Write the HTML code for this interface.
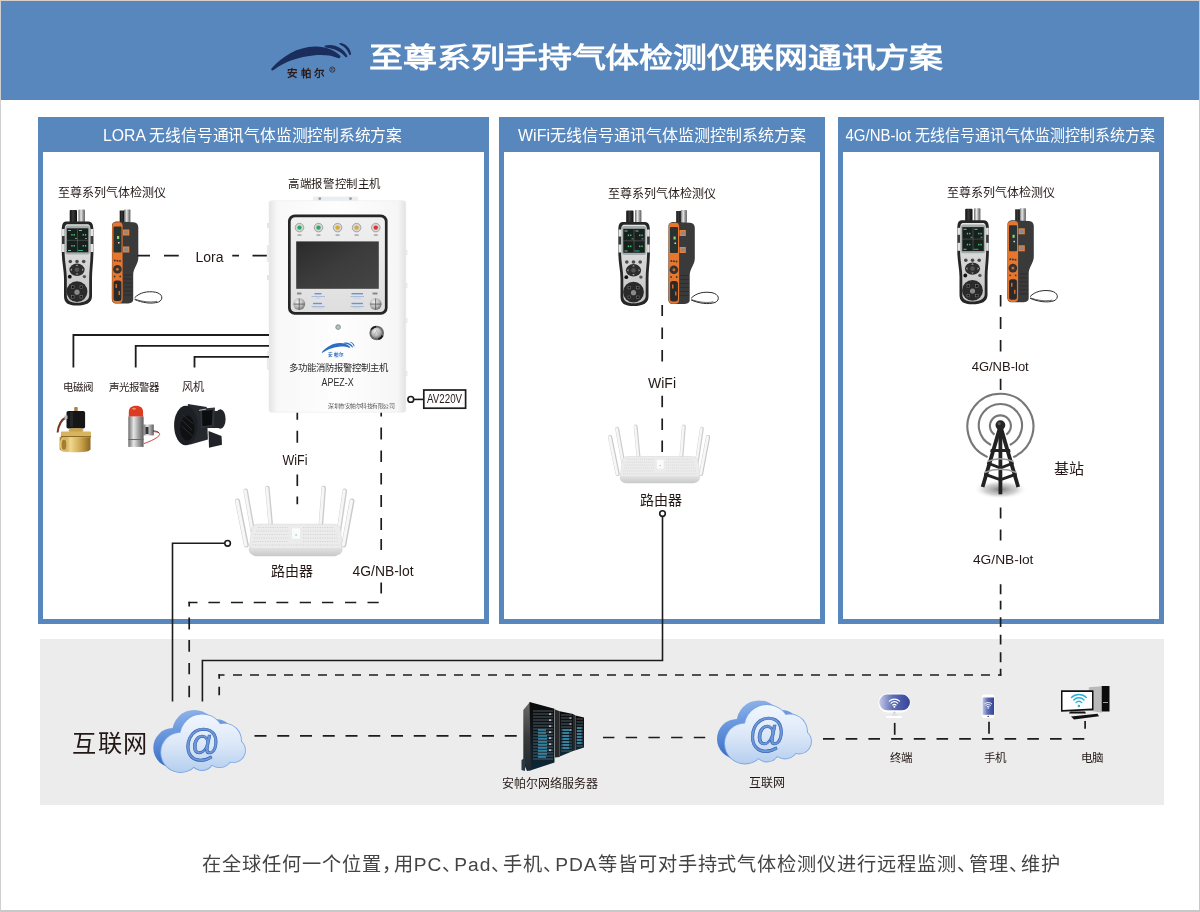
<!DOCTYPE html>
<html lang="zh-CN">
<head>
<meta charset="utf-8">
<title>至尊系列手持气体检测仪联网通讯方案</title>
<style>
html,body{margin:0;padding:0;background:#fff;}
body{width:1200px;height:912px;overflow:hidden;position:relative;font-family:"Liberation Sans",sans-serif;}
#frame{position:absolute;left:0;top:0;width:1200px;height:912px;box-sizing:border-box;border-left:1px solid #cfcfcf;border-right:1px solid #c8c8c8;border-bottom:2px solid #c8c8c8;border-top:1px solid #d8cfc8;}
#hdr{position:absolute;left:1px;top:1px;width:1198px;height:98.5px;background:#5787bd;}
.panel{position:absolute;box-sizing:border-box;border:5.5px solid #5787bd;border-top:35px solid #5787bd;background:#fff;}
#gray{position:absolute;left:40px;top:639px;width:1124px;height:166px;background:#ececec;}
svg{position:absolute;left:0;top:0;will-change:transform;}
</style>
</head>
<body>
<div id="frame"></div>
<div id="hdr"></div>
<div class="panel" style="left:37.5px;top:117px;width:451.5px;height:507px;"></div>
<div class="panel" style="left:499px;top:117px;width:326px;height:507px;"></div>
<div class="panel" style="left:838px;top:117px;width:326px;height:507px;"></div>
<div id="gray"></div>
<svg width="1200" height="912" viewBox="0 0 1200 912">
<defs>
 <linearGradient id="gTubeK" x1="0" x2="1" y1="0" y2="0"><stop offset="0" stop-color="#111"/><stop offset="0.45" stop-color="#3a3a3a"/><stop offset="1" stop-color="#0c0c0c"/></linearGradient>
 <linearGradient id="gTubeS" x1="0" x2="1" y1="0" y2="0"><stop offset="0" stop-color="#6a6a6a"/><stop offset="0.4" stop-color="#e8e8e8"/><stop offset="0.7" stop-color="#9a9a9a"/><stop offset="1" stop-color="#5a5a5a"/></linearGradient>
 <linearGradient id="gFace" x1="0" x2="0" y1="0" y2="1"><stop offset="0" stop-color="#e6e6e6"/><stop offset="1" stop-color="#c4c4c4"/></linearGradient>
 <linearGradient id="gBox" x1="0" x2="1" y1="0" y2="0"><stop offset="0" stop-color="#e4e4e4"/><stop offset="0.06" stop-color="#f8f8f8"/><stop offset="0.5" stop-color="#fefefe"/><stop offset="0.94" stop-color="#f6f6f6"/><stop offset="1" stop-color="#e2e2e2"/></linearGradient>
 <linearGradient id="gScreen" x1="0" x2="1" y1="0" y2="1"><stop offset="0" stop-color="#2a2a2a"/><stop offset="0.5" stop-color="#3c3c3c"/><stop offset="1" stop-color="#454545"/></linearGradient>
 <linearGradient id="gPanelIn" x1="0" x2="0" y1="0" y2="1"><stop offset="0" stop-color="#f0f0f0"/><stop offset="1" stop-color="#dedede"/></linearGradient>
 <radialGradient id="gKnob" cx="0.4" cy="0.35" r="0.7"><stop offset="0" stop-color="#f4f4f4"/><stop offset="0.6" stop-color="#b5b5b5"/><stop offset="1" stop-color="#6a6a6a"/></radialGradient>
 <radialGradient id="gShadow" cx="0.5" cy="0.5" r="0.5"><stop offset="0" stop-color="#6e6e6e" stop-opacity="0.9"/><stop offset="0.6" stop-color="#a8a8a8" stop-opacity="0.5"/><stop offset="1" stop-color="#fff" stop-opacity="0"/></radialGradient>
 <linearGradient id="gCloudF" gradientUnits="userSpaceOnUse" x1="0" y1="4" x2="0" y2="64"><stop offset="0" stop-color="#f2f7fd"/><stop offset="0.5" stop-color="#dce8f8"/><stop offset="1" stop-color="#b4cdee"/></linearGradient>
 <linearGradient id="gCloudB" gradientUnits="userSpaceOnUse" x1="0" y1="0" x2="12" y2="62"><stop offset="0" stop-color="#a9c7ef"/><stop offset="0.45" stop-color="#6f9be0"/><stop offset="1" stop-color="#3a6fc4"/></linearGradient>
 <linearGradient id="gBrass" x1="0" x2="1" y1="0" y2="0"><stop offset="0" stop-color="#9c7426"/><stop offset="0.35" stop-color="#f0d78c"/><stop offset="0.7" stop-color="#c9a34b"/><stop offset="1" stop-color="#8a6520"/></linearGradient>
 <linearGradient id="gSteel" x1="0" x2="1" y1="0" y2="0"><stop offset="0" stop-color="#6d6d6d"/><stop offset="0.35" stop-color="#e6e6e6"/><stop offset="0.65" stop-color="#a5a5a5"/><stop offset="1" stop-color="#5e5e5e"/></linearGradient>
 <linearGradient id="gTerm" x1="0" x2="1" y1="0" y2="0"><stop offset="0" stop-color="#c3c9e6"/><stop offset="0.45" stop-color="#5d6cb4"/><stop offset="1" stop-color="#34449a"/></linearGradient>
 <linearGradient id="gRack" x1="0" x2="0" y1="0" y2="1"><stop offset="0" stop-color="#0a0a0a"/><stop offset="0.55" stop-color="#0f1a22"/><stop offset="1" stop-color="#0c2838"/></linearGradient>
 <linearGradient id="gRouterLip" x1="0" x2="0" y1="0" y2="1"><stop offset="0" stop-color="#e6e6e6"/><stop offset="1" stop-color="#c8c8c8"/></linearGradient>

 <g id="devs">
  <!-- device 1 -->
  <rect x="69.7" y="210" width="7.3" height="13" rx="1" fill="url(#gTubeK)"/>
  <rect x="78.5" y="209.5" width="6.4" height="13.5" rx="1" fill="url(#gTubeS)"/>
  <path d="M66,221.5C62.5,221.5 61.8,225 61.8,231V252C61.8,262 64,270 64,278V296C64,303 68,305.5 77,305.5C86,305.5 92,303 92,296V278C92,270 93.4,262 93.4,252V231C93.4,225 92.5,221.5 88.5,221.5Z" fill="#262626"/>
  <path d="M67.8,224.3C65.3,224.3 64.6,226.5 64.6,231.5V252C64.6,262 66.8,270 66.8,278V295.5C66.8,300.5 70.5,302.8 77,302.8C83.5,302.8 89.2,300.5 89.2,295.5V278C89.2,270 90.6,262 90.6,252V231.5C90.6,226.5 89.8,224.3 87.3,224.3Z" fill="url(#gFace)"/>
  <rect x="62" y="229" width="2.6" height="23" fill="#e4e4e4"/><rect x="62" y="236" width="2.6" height="8" fill="#3a3a3a"/>
  <rect x="90.6" y="229" width="2.6" height="23" fill="#e4e4e4"/><rect x="90.6" y="236" width="2.6" height="8" fill="#3a3a3a"/>
  <rect x="65.3" y="225.6" width="24.5" height="28.8" rx="2.5" fill="#a3adab"/>
  <rect x="66.8" y="228.3" width="21.5" height="24" fill="#17201d"/>
  <path d="M77.5,229V252M67,240.3H88" stroke="#6c7570" stroke-width="0.5"/>
  <g fill="#3bd06a"><rect x="71.3" y="234" width="1.3" height="1.6"/><rect x="73.6" y="234" width="1.3" height="1.6"/><rect x="82.6" y="234" width="1.3" height="1.6"/><rect x="84.9" y="234" width="1.3" height="1.6"/><rect x="71.3" y="245" width="1.3" height="1.6"/><rect x="73.6" y="245" width="1.3" height="1.6"/><rect x="82.6" y="245" width="1.3" height="1.6"/><rect x="84.9" y="245" width="1.3" height="1.6"/></g>
  <g fill="#9aa"><rect x="68" y="230" width="3" height="1"/><rect x="79" y="230" width="3" height="1"/><rect x="75" y="238" width="2" height="0.8"/><rect x="85" y="238" width="2" height="0.8"/><rect x="68" y="250" width="3" height="1"/><rect x="78" y="250" width="5" height="1" fill="#3a8"/></g>
  <g fill="#4a4a4a"><circle cx="70.3" cy="261.5" r="1.8"/><circle cx="77" cy="261.5" r="1.8"/><circle cx="83.7" cy="261.5" r="1.8"/></g>
  <ellipse cx="77" cy="269.8" rx="7.6" ry="6.2" fill="#2e2e2e"/><circle cx="77" cy="269.8" r="2.3" fill="#555"/><path d="M77,264.3L78.3,266H75.7ZM77,275.3L78.3,273.6H75.7ZM70.3,269.8L72,268.5V271.1ZM83.7,269.8L82,268.5V271.1Z" fill="#999"/>
  <circle cx="69.8" cy="276.7" r="1.9" fill="#111"/><circle cx="84.4" cy="276.6" r="1.7" fill="#555"/>
  <circle cx="77" cy="291.6" r="10.4" fill="#2a2a2a"/>
  <g fill="#111" stroke="#888" stroke-width="0.5"><rect x="71.5" y="285.8" width="2.6" height="2.6"/><rect x="80" y="285.8" width="2.6" height="2.6"/><rect x="71.5" y="295.5" width="2.6" height="2.6"/><rect x="80" y="295.5" width="2.6" height="2.6"/></g>
  <circle cx="77" cy="292.2" r="2.6" fill="#8a8a8a"/>
  <!-- device 2 -->
  <rect x="119.7" y="210.5" width="4.8" height="12" fill="url(#gTubeK)"/>
  <rect x="124.2" y="209.5" width="6.2" height="13" rx="0.8" fill="url(#gTubeS)"/>
  <path d="M112,226C112,223 113.5,221.5 117.5,221.5L133.5,222.3C136.8,222.6 138.3,224.5 138.3,227.5V258C138.3,264 133.2,268 133.2,275V299.5C133.2,302.3 131,303.5 126.5,303.5H116.5C113.2,303.5 111.8,301.5 111.8,298.5Z" fill="#3a3a3a"/>
  <g stroke="#2a2a2a" stroke-width="0.7"><path d="M124,275H132.5M124,279H132.5M124,283H132.5M124,287H132.5M124,291H132.5M124,295H132.5"/></g>
  <path d="M112.2,226.5C112.2,223.5 113.5,222.3 116,222.3H119.5C121.6,222.3 122.6,223.8 122.6,226V299C122.6,302 121.2,303.2 118.6,303.2H116C113.2,303.2 112.2,301.6 112.2,298.8Z" fill="#e8762c"/>
  <rect x="113.5" y="226.5" width="8" height="26" rx="1" fill="#2b3331"/>
  <rect x="117" y="236" width="2.2" height="3" fill="#8fd07a"/><rect x="118" y="242" width="1.5" height="1.5" fill="#ddd"/>
  <rect x="123" y="229.5" width="6.3" height="6" fill="#e9813c"/><rect x="124.2" y="230.7" width="4" height="3.6" fill="#8a8a8a"/>
  <rect x="123" y="246.5" width="6.3" height="6" fill="#e9813c"/><rect x="124.2" y="247.7" width="4" height="3.6" fill="#8a8a8a"/>
  <g fill="#3a3a3a"><circle cx="114.8" cy="260.5" r="1"/><circle cx="117.4" cy="260.8" r="1"/><circle cx="120" cy="261" r="1"/></g>
  <circle cx="117.4" cy="269.3" r="4.3" fill="#333"/><circle cx="117.4" cy="269.3" r="1.5" fill="#c9692a"/><g fill="#3a3a3a"><circle cx="114.6" cy="276.5" r="0.9"/><circle cx="120.2" cy="276.5" r="0.9"/></g>
  <rect x="113.6" y="280.5" width="7.8" height="20.5" rx="2.5" fill="#2a2a2a"/><rect x="115.5" y="284" width="1.5" height="4" fill="#d06a28"/><rect x="118.5" y="291" width="1.5" height="4" fill="#d06a28"/>
  <path d="M134.6,297.8C139.5,292.5 147.5,290.8 155.5,292.2C162.5,293.5 164,299.5 158.5,302C151.5,304.3 142,302.7 134.6,299.5" stroke="#2a2a2a" stroke-width="1" fill="none"/>
  <path d="M135,299C141,301.5 150,302.8 157,301.3" stroke="#2a2a2a" stroke-width="0.7" fill="none"/>
 </g>

 <g id="router">
  <g stroke-linecap="round">
   <path d="M245.7,490.8L252.8,531M267.4,488.1L270.6,523.3M323.7,488.1L321,523.3M344.8,490.8L338.9,531" stroke="#cdcdcd" stroke-width="4.6"/>
   <path d="M245.2,490.8L252.3,531M266.9,488.1L270.1,523.3M323.2,488.1L320.5,523.3M344.3,490.8L338.4,531" stroke="#f6f6f6" stroke-width="2.8"/>
  </g>
  <path d="M249.5,546.5C247.5,550 249,554.5 256,556.3H335C342,554.5 343.8,550 342,546.5Z" fill="url(#gRouterLip)"/>
  <path d="M258,524.2H333C337,524.2 339,525.5 340.3,528.5L342.3,545C342.6,547.5 341.5,548.5 339,548.5H253C250.5,548.5 249.4,547.5 249.7,545L251.7,528.5C253,525.5 254.5,524.2 258,524.2Z" fill="#ececec" stroke="#d8d8d8" stroke-width="0.6"/>
  <g stroke="#cfcfcf" stroke-width="0.9" stroke-dasharray="1.1 1.3">
   <path d="M258,527.5H289M303,527.5H334M256,531H289M303,531H336M255,534.5H289M303,534.5H337M254,538H289M303,538H338M253,541.5H289M303,541.5H339M252.5,545H339.5"/>
  </g>
  <rect x="291.6" y="527.8" width="9" height="11.5" rx="1" fill="#fbfbfb" stroke="#e2e2e2" stroke-width="0.5"/>
  <circle cx="296.1" cy="535" r="0.8" fill="#66c6dd"/>
  <g stroke-linecap="round">
   <path d="M237.5,501L246.3,545M352,501L343.8,545" stroke="#c9c9c9" stroke-width="5"/>
   <path d="M237,501L245.8,545M351.5,501L343.3,545" stroke="#f7f7f7" stroke-width="3.2"/>
  </g>
 </g>

 <g id="cloud">
 <g fill="url(#gCloudB)" transform="translate(-8,-4.6)"><circle cx="28" cy="43" r="20"/><circle cx="50" cy="27" r="22.5"/><circle cx="73" cy="31" r="17"/><circle cx="82" cy="41" r="12"/><circle cx="50" cy="49" r="12"/><circle cx="68" cy="45" r="13"/><path d="M28,43L50,27L73,31L82,41L68,45L50,49Z"/></g>
 <g fill="#7aa6e6"><circle cx="28" cy="43" r="20.9"/><circle cx="50" cy="27" r="23.4"/><circle cx="73" cy="31" r="17.9"/><circle cx="82" cy="41" r="12.9"/><circle cx="50" cy="49" r="12.9"/><circle cx="68" cy="45" r="13.9"/><path d="M28,43L50,27L73,31L82,41L68,45L50,49Z"/></g>
 <g fill="url(#gCloudF)"><circle cx="28" cy="43" r="20"/><circle cx="50" cy="27" r="22.5"/><circle cx="73" cy="31" r="17"/><circle cx="82" cy="41" r="12"/><circle cx="50" cy="49" r="12"/><circle cx="68" cy="45" r="13"/><path d="M28,43L50,27L73,31L82,41L68,45L50,49Z"/></g>
 <text transform="translate(49.5,46.6) scale(0.92,1)" font-size="40" font-style="italic" font-family="Liberation Sans, sans-serif" fill="#6e98d8" stroke="#3563b3" stroke-width="0.7" text-anchor="middle">@</text>
</g>
</defs>
<!-- header logo -->
<g fill="#1b2d5c"><g id="logoSw">
 <path d="M271.7,68.3C283,56 297,47 315,46.5C326,46.3 334,50 340,55.5C341.5,57.5 339.5,58.8 337,57.8C330,55 322,54.7 313,55.5C298,57 284,62 274,69.8C272,71.2 270.5,70 271.7,68.3Z"/>
 <path d="M325.2,45.6C334,43.5 343.5,48 347.3,55.8C347.8,57.2 346,57.8 345.2,56.8C341,52 335,48.5 325.5,47.6C324.5,47.2 324.4,45.8 325.2,45.6Z"/>
 <path d="M339.8,43C345.5,43.5 350.5,48 351,54C351.1,55.2 349.6,55.3 349.2,54.4C347.5,50 344.5,46.5 340.2,44.8C339.3,44.4 339.2,43.1 339.8,43Z"/>
</g></g>
<text x="287.3" y="76.8" font-size="10.5" font-weight="bold" fill="#2b1a18" font-family="Liberation Sans, sans-serif" textLength="37" lengthAdjust="spacing">安帕尔</text>
<circle cx="332.3" cy="69.6" r="2.6" fill="none" stroke="#2b1a18" stroke-width="0.7"/>
<text x="332.3" y="71.2" font-size="3.8" fill="#2b1a18" text-anchor="middle" font-family="Liberation Sans, sans-serif">R</text>

<!-- devices -->
<use href="#devs"/>
<use href="#devs" transform="translate(556.5,0.5)"/>
<use href="#devs" transform="translate(895.5,-1.2)"/>

<!-- controller box -->
<g>
 <rect x="267" y="223" width="2.3" height="5" fill="#e4e4e4"/>
 <rect x="266.8" y="245" width="2.5" height="17" fill="#ececec"/>
 <rect x="267" y="275" width="2.3" height="5" fill="#e4e4e4"/>
 <rect x="266.8" y="351" width="2.5" height="19" fill="#ececec"/>
 <rect x="405.5" y="250" width="2" height="5" fill="#ececec"/><rect x="405.5" y="283" width="2" height="5" fill="#ececec"/><rect x="405.5" y="318" width="2" height="5" fill="#ececec"/><rect x="405.5" y="371" width="2" height="5" fill="#ececec"/>
 <rect x="313.2" y="196.6" width="45" height="4.5" fill="#e9eef1"/>
 <circle cx="319.8" cy="198.6" r="1.4" fill="#9a9a9a"/><circle cx="350.5" cy="198.6" r="1.4" fill="#9a9a9a"/>
 <rect x="269" y="200.7" width="136.8" height="211.6" rx="2.5" fill="url(#gBox)" stroke="#e8e8e8" stroke-width="0.5"/>
 <rect x="288" y="214.5" width="99.6" height="100.3" rx="6.8" fill="#262626"/>
 <rect x="290.7" y="217.2" width="94.2" height="94.9" rx="4.6" fill="url(#gPanelIn)"/>
 <g stroke="#808080" stroke-width="0.6" fill="#d6d6d6">
  <circle cx="299.5" cy="227.6" r="4.3"/><circle cx="318.5" cy="227.6" r="4.3"/><circle cx="337.6" cy="227.6" r="4.3"/><circle cx="356.6" cy="227.6" r="4.3"/><circle cx="375.8" cy="227.6" r="4.3"/>
 </g>
 <g><circle cx="299.5" cy="227.6" r="2.2" fill="#2fa860"/><circle cx="318.5" cy="227.6" r="2.2" fill="#2fa860"/><circle cx="337.6" cy="227.6" r="2.2" fill="#d6aa3c"/><circle cx="356.6" cy="227.6" r="2.2" fill="#d6aa3c"/><circle cx="375.8" cy="227.6" r="2.2" fill="#d83636"/></g>
 <g fill="#9a9a9a"><rect x="297.5" y="234.4" width="4" height="1.3"/><rect x="316.5" y="234.4" width="4" height="1.3"/><rect x="335.6" y="234.4" width="4" height="1.3"/><rect x="354.6" y="234.4" width="4" height="1.3"/><rect x="373.8" y="234.4" width="4" height="1.3"/></g>
 <rect x="296.2" y="241.4" width="82.6" height="47.4" fill="url(#gScreen)"/>
 <g fill="#8a8a8a"><rect x="297" y="292.5" width="4.5" height="2"/><rect x="372.5" y="292.5" width="5" height="2"/></g>
 <g fill="#6d94cf"><rect x="314.5" y="293" width="7" height="1.4"/><rect x="311.5" y="296.2" width="13.5" height="0.5"/><rect x="315.5" y="297.8" width="5" height="0.5" fill="#a9bde0"/>
  <rect x="313" y="302.8" width="9" height="1.4"/><rect x="311.5" y="306" width="13.5" height="0.5"/><rect x="312.5" y="307.6" width="11" height="0.5" fill="#a9bde0"/>
  <rect x="351.5" y="293" width="11.5" height="1.4"/><rect x="350.5" y="296.2" width="13.5" height="0.5"/><rect x="353" y="297.8" width="8" height="0.5" fill="#a9bde0"/>
  <rect x="351.5" y="302.8" width="11.5" height="1.4"/><rect x="350.5" y="306" width="13.5" height="0.5"/><rect x="353" y="307.6" width="8" height="0.5" fill="#a9bde0"/></g>
 <circle cx="299.2" cy="304.1" r="6" fill="url(#gKnob)"/><path d="M299.2,298.5V309.7M293.6,304.1H304.8" stroke="#555" stroke-width="0.8"/>
 <circle cx="375.6" cy="304.1" r="6" fill="url(#gKnob)"/><path d="M375.6,298.5V309.7M370,304.1H381.2" stroke="#555" stroke-width="0.8"/>
 <circle cx="338.1" cy="327.1" r="2.4" fill="#a9c6b0" stroke="#6a6a6a" stroke-width="0.6"/>
 <circle cx="376.7" cy="333" r="7.3" fill="#6b6b6b"/><path d="M370.5,329A7.3,7.3 0 0 1 376,325.8L376.5,328A5,5 0 0 0 372.5,330.5Z" fill="#1a1a1a"/><path d="M383.5,336A7.3,7.3 0 0 1 378.5,340L378,337.8A5,5 0 0 0 381.3,335Z" fill="#1a1a1a"/><circle cx="376.7" cy="333" r="5.4" fill="url(#gKnob)"/><path d="M374,335.5L376.7,330.5L379.4,335.5" stroke="#999" stroke-width="0.6" fill="none"/>
 <use href="#logoSw" fill="#2a6fc4" transform="translate(322,352) scale(0.41) translate(-271.7,-68.3)"/>
 <text x="336.3" y="356.3" font-size="4.6" font-weight="bold" fill="#2a6fc4" text-anchor="middle" font-family="Liberation Sans, sans-serif" textLength="16" lengthAdjust="spacing">安帕尔</text>
 <text x="338" y="371.2" font-size="9.4" fill="#2a2a2a" text-anchor="middle" font-family="Liberation Sans, sans-serif">多功能消防报警控制主机</text>
 <text x="337.6" y="385.8" font-size="10" fill="#2a2a2a" text-anchor="middle" font-family="Liberation Sans, sans-serif" textLength="32" lengthAdjust="spacingAndGlyphs">APEZ-X</text>
 <text x="361" y="408" font-size="5.4" textLength="66" lengthAdjust="spacingAndGlyphs" fill="#555" text-anchor="middle" font-family="Liberation Sans, sans-serif">深圳市安帕尔科技有限公司</text>
</g>

<!-- peripherals -->
<g>
 <!-- solenoid valve -->
 <rect x="74.2" y="407" width="3.5" height="4.5" rx="0.8" fill="#a8824a"/>
 <rect x="66.5" y="410.9" width="18.6" height="17.6" rx="1.8" fill="#161616"/>
 <rect x="70" y="412" width="3" height="15" fill="#262626"/>
 <path d="M66,417.5C61.5,419.5 58.5,425 57.6,432.5" stroke="#7a3524" stroke-width="2" fill="none"/>
 <rect x="64.5" y="415.5" width="3" height="3.5" fill="#bbb"/>
 <ellipse cx="76" cy="430.5" rx="7.5" ry="2.5" fill="#caa24a"/>
 <rect x="60.9" y="431.5" width="30.1" height="6" rx="1" fill="#d7b45e"/>
 <rect x="60.9" y="436" width="30.1" height="1.2" fill="#8c6a2a"/>
 <path d="M59.7,437.2H90.5V449C90.5,451 86,452.3 76,452.3C65,452.3 59.7,451 59.7,449Z" fill="url(#gBrass)"/>
 <ellipse cx="63.5" cy="444.6" rx="3.8" ry="7.2" fill="#e3c272"/>
 <ellipse cx="64" cy="444.8" rx="2.4" ry="5.2" fill="#a67c2e"/>
 <!-- alarm light -->
 <path d="M128.8,416.8V412C128.8,408 131.5,405.8 136,405.8C140.5,405.8 143.1,408 143.1,412V416.8Z" fill="#dd3b22"/>
 <ellipse cx="134" cy="408.8" rx="2" ry="1" fill="#f08a70"/>
 <rect x="128.3" y="416.5" width="15.3" height="30.4" fill="url(#gSteel)"/>
 <rect x="128.3" y="439" width="15.3" height="1" fill="#6a6a6a"/>
 <rect x="143.4" y="424.5" width="10.4" height="10.9" fill="url(#gSteel)"/>
 <rect x="145.5" y="427" width="3" height="7" fill="#333"/>
 <path d="M153,431.6C157,431.8 160,432.5 159.6,434.5C159,437.5 150,441.5 143.9,443.6" stroke="#c62d22" stroke-width="0.9" fill="none"/>
 <path d="M153,430.8C156.5,431 158.5,431.5 158.8,433" stroke="#222" stroke-width="0.7" fill="none"/>
 <!-- fan -->
 <path d="M187.8,404L206.7,406.9L207.9,439.4L189.5,444.7Z" fill="#25282d"/>
 <ellipse cx="185.8" cy="425.5" rx="11.7" ry="19.8" fill="#1c1f23"/>
 <ellipse cx="187.3" cy="428" rx="7.2" ry="12.5" fill="#0f1012"/>
 <g stroke="#2e3238" stroke-width="0.8"><path d="M182,420L192,430M181.5,426L192.5,436M183,415L193,424"/></g>
 <rect x="207" y="411" width="13" height="17" fill="#23262b"/><ellipse cx="220.3" cy="419" rx="5.3" ry="9.8" fill="#22252a"/>
 <path d="M200.2,408.7L215,407.5L213.8,426.4L200.8,428.2Z" fill="#30343a"/>
 <path d="M202,411L212.6,410L211.8,425L202.4,426.2Z" fill="#0c0d0f"/>
 <path d="M199,410.3L206,409.2" stroke="#cfcfcf" stroke-width="0.9"/>
 <path d="M208.5,431L221.5,435.9L222,444.7L209,447.7Z" fill="#1f2226"/>
</g>

<!-- routers -->
<use href="#router"/>
<use href="#router" transform="translate(609.7,426.3) scale(0.855,0.835) translate(-237,-488)"/>

<!-- tower -->
<g>
 <ellipse cx="1000.4" cy="489.5" rx="27" ry="9.5" fill="url(#gShadow)"/>
 <g fill="none" stroke="#777" stroke-width="2.1">
  <path d="M987.6,457.1A33,33 0 1 1 1013.2,457.1"/>
  <path d="M991,445A21.6,21.6 0 1 1 1009.8,445"/>
  <path d="M994.5,434.6A10.5,10.5 0 1 1 1006.3,434.6"/>
 </g>
 <g fill="#222">
  <path d="M998.4,426L980.8,486.5L984.4,487.5L1000.4,433Z"/>
  <path d="M1002.4,426L1020,486.5L1016.4,487.5L1000.4,433Z"/>
  <rect x="998.5" y="426" width="3.8" height="68.3"/>
  <path d="M990.8,449H1010L1010.6,452H990.2Z"/>
  <path d="M987.5,461.5L1000.4,466.5L1013.3,461.5L1013.9,464.3L1000.4,469.5L986.9,464.3Z"/>
  <path d="M984.5,472.5L1000.4,478.3L1016.3,472.5L1016.9,475.4L1000.4,481.3L983.9,475.4Z"/>
 </g>
 <path d="M987.5,461.5Q1000.4,456 1013.3,461.5" stroke="#9a9a9a" stroke-width="1.6" fill="none"/>
 <path d="M984.5,472.5Q1000.4,466 1016.3,472.5" stroke="#9a9a9a" stroke-width="1.6" fill="none"/>
 <circle cx="1000.4" cy="425.1" r="4.9" fill="#262626"/><circle cx="999.2" cy="423.6" r="1.6" fill="#555"/>
</g>

<!-- clouds -->
<use href="#cloud" transform="translate(153.3,710) scale(0.975,0.985)"/>
<use href="#cloud" transform="translate(717,700.5)"/>

<!-- server -->
<g>
 <linearGradient id="gSide" x1="0" x2="0" y1="0" y2="1"><stop offset="0" stop-color="#6a6a6a"/><stop offset="0.5" stop-color="#3a3a3a"/><stop offset="1" stop-color="#1e2a30"/></linearGradient>
 <path d="M523.3,710L529.5,702.5L531,702.5V770.5L527,771L523.3,763Z" fill="url(#gSide)"/>
 <path d="M529.5,702L554.5,708.8V762.5L531,770.3Z" fill="url(#gRack)"/>
 <path d="M555,709.5L559.7,711.2V757L555,757.5Z" fill="#2a2a2a"/>
 <path d="M559.7,711.2L573,714V751L559.7,756.4Z" fill="url(#gRack)"/>
 <path d="M573,714L575.5,715.6V750.3L573,751Z" fill="#2a2a2a"/>
 <path d="M575.5,715.6L584,717.5V747.5L575.5,750.3Z" fill="url(#gRack)"/>
 <path d="M521.5,760L525,758V771L521.5,770Z" fill="#2a3a44"/>
 <g stroke="#7b8a92" stroke-width="0.6">
  <path d="M533,711H553M533,714H553M533,717H553M533,720H553M533,723H553M533,726H553M533,729H553M533,732H553M533,735H553M533,738H553M533,741H553M533,744H553M533,747H553M533,750H553M533,753H553M533,756H553M533,759H553"/>
  <path d="M561,715H572M561,718H572M561,721H572M561,724H572M561,727H572M561,730H572M561,733H572M561,736H572M561,739H572M561,742H572M561,745H572M561,748H572M561,751H572"/>
  <path d="M576.5,719H583M576.5,722H583M576.5,725H583M576.5,728H583M576.5,731H583M576.5,734H583M576.5,737H583M576.5,740H583M576.5,743H583M576.5,746H583"/>
 </g>
 <g stroke="#43c3f2" stroke-width="1">
  <path d="M538,730H546M538,733H546M538,736H547M538,739H547M538,742H547M538,745H547M538,748H547M538,751H547M538,754H547M538,757H546"/>
  <path d="M562.5,730H569M562.5,733H569M562.5,736H569M562.5,739H569M562.5,742H569M562.5,745H569M562.5,748H569"/>
  <path d="M577,728H581.5M577,731H581.5M577,734H581.5M577,737H581.5M577,740H581.5M577,743H581.5"/>
 </g>
 <g fill="#eee"><rect x="549" y="713.5" width="2.2" height="1.2"/><rect x="549" y="719.5" width="2.2" height="1.2"/><rect x="549" y="725.5" width="2.2" height="1.2"/><rect x="549" y="731.5" width="2.2" height="1.2"/><rect x="549" y="737.5" width="2.2" height="1.2"/><rect x="549" y="743.5" width="2.2" height="1.2"/><rect x="549" y="749.5" width="2.2" height="1.2"/><rect x="569.5" y="717.5" width="1.8" height="1"/><rect x="569.5" y="723.5" width="1.8" height="1"/><rect x="569.5" y="729.5" width="1.8" height="1"/></g>
</g>

<!-- terminal -->
<g>
 <rect x="878.3" y="693.5" width="32.2" height="19" rx="9.5" fill="#fff"/>
 <rect x="879.3" y="694.6" width="30.6" height="15.6" rx="7.8" fill="url(#gTerm)"/>
 <path d="M894.4,711.3V714M893,712.6H895.8" stroke="#bbb" stroke-width="0.5"/>
 <rect x="892" y="714.6" width="5" height="0.7" fill="#ccc"/>
 <rect x="886" y="716" width="16" height="2" rx="1" fill="#fff"/>
 <g fill="none" stroke="#fff" stroke-width="1.2" stroke-linecap="round">
  <path d="M889.3,701.2A7.2,7.2 0 0 1 899.5,701.2"/><path d="M891.1,703.1A4.6,4.6 0 0 1 897.7,703.1"/><path d="M892.8,705A2.2,2.2 0 0 1 896,705"/>
 </g>
 <circle cx="894.4" cy="706.8" r="1" fill="#fff"/>
 <!-- phone -->
 <rect x="981.8" y="694.5" width="12.6" height="23.5" rx="2.8" fill="#fff"/>
 <rect x="982.5" y="697.5" width="11.5" height="17.3" fill="url(#gTerm)"/>
 <circle cx="988.2" cy="716.4" r="0.7" fill="#222"/>
 <g fill="none" stroke="#fff" stroke-width="0.9" stroke-linecap="round">
  <path d="M984.7,703.8A5,5 0 0 1 991.7,703.8"/><path d="M985.9,705.2A3.3,3.3 0 0 1 990.5,705.2"/><path d="M987.1,706.6A1.6,1.6 0 0 1 989.3,706.6"/>
 </g>
 <circle cx="988.2" cy="708" r="0.8" fill="#fff"/>
 <!-- computer -->
 <path d="M1088.8,687.3L1101.7,686.2V712.8L1088.8,710.5Z" fill="#b9b9b9"/>
 <rect x="1101.7" y="686" width="7.8" height="25.5" fill="#0c0c0c"/>
 <rect x="1103" y="702" width="5" height="0.8" fill="#ccc"/>
 <path d="M1061,690.3H1093.5V710.2L1061,711.8Z" fill="#111"/>
 <path d="M1062.5,692H1092V708.6L1062.5,710Z" fill="#fff"/>
 <g fill="none" stroke="#27b3d8" stroke-width="1.4" stroke-linecap="round">
  <path d="M1071.5,697.5A10.5,10.5 0 0 1 1086.3,697.5"/><path d="M1073.8,700A6.9,6.9 0 0 1 1084,700"/><path d="M1076.1,702.6A3.5,3.5 0 0 1 1081.7,702.6"/>
 </g>
 <circle cx="1078.9" cy="706" r="1.3" fill="#27b3d8"/>
 <path d="M1070,711.5H1085L1086,713.5H1069Z" fill="#111"/>
 <path d="M1071,716.5L1097.5,713.8L1099,716.3L1074,719.5Z" fill="#111"/>
</g>
<path d="M137.5,255.6H150M164,255.6H178.75M232.25,255.6H239M252.5,255.6H266.8" stroke="#1c1c1c" stroke-width="1.7" fill="none"/>
<path d="M73.4,367.5V335H269M135.7,367.5V345.9H269M194.5,367.5V356.8H269" stroke="#1c1c1c" stroke-width="1.8" fill="none"/>
<circle cx="410.8" cy="399.4" r="2.9" fill="#fff" stroke="#1c1c1c" stroke-width="1.6"/>
<path d="M413.7,399.4H423.5" stroke="#1c1c1c" stroke-width="1.6"/>
<rect x="423.8" y="390" width="41.8" height="18.2" fill="#fff" stroke="#1c1c1c" stroke-width="1.7"/>
<path d="M297.3,412.7V419.8M297.3,430.8V442.8M297.3,474.6V486.1M297.3,496.6V504.2" stroke="#1c1c1c" stroke-width="1.7" fill="none"/>
<path d="M381.2,412.7V416.5M381.2,427.5V439.5M381.2,450.5V462M381.2,473V484.5M381.2,495V507M381.2,518V530M381.2,539V550M381.2,582.5V593.5" stroke="#1c1c1c" stroke-width="1.7" fill="none"/>
<path d="M367.5,602.5H378.7M345,602.5H356.3M322,602.5H333.3M299.7,602.5H311M276.4,602.5H288.3M253.7,602.5H266M231,602.5H243M208.4,602.5H219.9M188.4,602.5H197.5" stroke="#1c1c1c" stroke-width="1.7" fill="none"/>
<path d="M189.2,601.7V606.4M189.2,617.6V629.5M189.2,640V651.8M189.2,663V674.2M189.2,685.8V697.2" stroke="#1c1c1c" stroke-width="1.7" fill="none"/>
<path d="M224.8,543.3H172.5V701.6" stroke="#1c1c1c" stroke-width="1.6" fill="none"/>
<circle cx="227.6" cy="543.3" r="2.8" fill="#fff" stroke="#1c1c1c" stroke-width="1.6"/>
<path d="M662.2,304.9V316M662.2,327.6V339M662.2,350V361.6M662.2,395.7V407.2M662.2,418.4V429.9M662.2,440.6V452" stroke="#1c1c1c" stroke-width="1.7" fill="none"/>
<path d="M662.5,516.3V660.5H202.4V701.6" stroke="#1c1c1c" stroke-width="1.6" fill="none"/>
<circle cx="662.5" cy="513.6" r="2.8" fill="#fff" stroke="#1c1c1c" stroke-width="1.6"/>
<path d="M1000.6,294.9V306.4M1000.6,317V329M1000.6,340V351.6M1000.6,378.75V390M1000.6,507.5V518.5M1000.6,529.5V540.4M1000.6,584.3V594.2M1000.6,600.7V609.5M1000.6,617.2V627M1000.6,634.7V644.6M1000.6,652.3V662.2M1000.6,668.7V675.8" stroke="#1c1c1c" stroke-width="1.7" fill="none"/>
<path d="M998,675H1001.4M981,675H990M964,675H973M947,675H956M930,675H939M913,675H922M896,675H905M879,675H888M862,675H871M845,675H854M828,675H837M811,675H820M794,675H803M777,675H786M760,675H769M743,675H752M726,675H735M709,675H718M692,675H701M675,675H684M658,675H667M641,675H650M624,675H633M607,675H616M590,675H599M573,675H582M556,675H565M539,675H548M522,675H531M505,675H514M488,675H497M471,675H480M454,675H463M437,675H446M420,675H429M403,675H412M386,675H395M369,675H378M352,675H361M335,675H344M318,675H327M301,675H310M284,675H293M267,675H276M250,675H259M233,675H242M218.4,675H224.5" stroke="#1c1c1c" stroke-width="1.7" fill="none"/>
<path d="M219.2,674.2V678.8M219.2,686.7V695.3" stroke="#1c1c1c" stroke-width="1.7" fill="none"/>
<path d="M254.5,735.9H266.5M277.25,735.9H289.25M300.0,735.9H312.0M322.75,735.9H334.75M345.5,735.9H357.5M368.25,735.9H380.25M391.0,735.9H403.0M413.75,735.9H425.75M436.5,735.9H448.5M459.25,735.9H471.25M482.0,735.9H494.0M504.75,735.9H516.75" stroke="#1c1c1c" stroke-width="1.7" fill="none"/>
<path d="M603.0,737.5H614.4M625.7,737.5H637.1M648.4,737.5H659.8M671.1,737.5H682.5M693.8,737.5H705.1999999999999" stroke="#1c1c1c" stroke-width="1.7" fill="none"/>
<path d="M823.0,738.9H834.6M845.7,738.9H857.3000000000001M868.4,738.9H880.0M891.1,738.9H902.7M913.8,738.9H925.4M936.5,738.9H948.1M959.2,738.9H970.8000000000001M981.9,738.9H993.5M1004.6,738.9H1016.2M1027.3,738.9H1038.8999999999999M1050.0,738.9H1061.6M1072.7,738.9H1084.3" stroke="#1c1c1c" stroke-width="1.7" fill="none"/>
<path d="M894.7,722.9V734.8" stroke="#1c1c1c" stroke-width="1.7" fill="none"/>
<path d="M989,721.8V733.75" stroke="#1c1c1c" stroke-width="1.7" fill="none"/>
<path d="M1085.1,721V728.8" stroke="#1c1c1c" stroke-width="1.7" fill="none"/>
<g font-family="Liberation Sans, sans-serif" fill="#231815" text-anchor="middle">
 <text transform="translate(369.3,57) scale(1,0.85)" x="0" y="12.9" font-size="33.7" font-weight="bold" fill="#fff" text-anchor="start" font-family="Liberation Serif, serif" textLength="573.5" lengthAdjust="spacingAndGlyphs">至尊系列手持气体检测仪联网通讯方案</text>
 <text x="103" y="140.5" font-size="16" fill="#fff" text-anchor="start" textLength="299" lengthAdjust="spacingAndGlyphs">LORA 无线信号通讯气体监测控制系统方案</text>
 <text x="662" y="140.5" font-size="16" fill="#fff">WiFi无线信号通讯气体监测控制系统方案</text>
 <text x="845.5" y="140.5" font-size="16" fill="#fff" text-anchor="start" textLength="309.5" lengthAdjust="spacingAndGlyphs">4G/NB-lot 无线信号通讯气体监测控制系统方案</text>
 <text x="112" y="196.5" font-size="12">至尊系列气体检测仪</text>
 <text x="334.5" y="188" font-size="11.8" textLength="93" lengthAdjust="spacingAndGlyphs">高端报警控制主机</text>
 <text x="662" y="197.5" font-size="12">至尊系列气体检测仪</text>
 <text x="1001" y="196.5" font-size="12">至尊系列气体检测仪</text>
 <text x="209.5" y="262" font-size="14">Lora</text>
 <text x="78" y="391" font-size="10.5">电磁阀</text>
 <text x="134" y="391" font-size="10.5">声光报警器</text>
 <text x="193.4" y="391.3" font-size="11.2">风机</text>
 <text x="295" y="464.7" font-size="14" textLength="25" lengthAdjust="spacingAndGlyphs">WiFi</text>
 <text x="292" y="575.5" font-size="14">路由器</text>
 <text x="383" y="576" font-size="14" textLength="61" lengthAdjust="spacingAndGlyphs">4G/NB-lot</text>
 <text x="662" y="387.7" font-size="14">WiFi</text>
 <text x="661" y="504.5" font-size="14">路由器</text>
 <text x="1000.2" y="370.6" font-size="13">4G/NB-lot</text>
 <text x="1069" y="474" font-size="15">基站</text>
 <text x="1003.2" y="564.3" font-size="13" textLength="60.5" lengthAdjust="spacingAndGlyphs">4G/NB-lot</text>
 <text x="109.7" y="752.2" font-size="24.2" textLength="75.5" lengthAdjust="spacing">互联网</text>
 <text x="549.6" y="787.8" font-size="12">安帕尔网络服务器</text>
 <text x="766.7" y="786.8" font-size="12">互联网</text>
 <text x="900.7" y="761.7" font-size="11.5">终端</text>
 <text x="995.3" y="761.7" font-size="11.5">手机</text>
 <text x="1091.7" y="761.7" font-size="11.5">电脑</text>
 <text x="202" y="871.2" font-size="19.2" fill="#444" text-anchor="start" textLength="858" lengthAdjust="spacing">在全球任何一个位置<tspan letter-spacing="-8">，</tspan>用PC<tspan letter-spacing="-8">、</tspan>Pad<tspan letter-spacing="-8">、</tspan>手机<tspan letter-spacing="-8">、</tspan>PDA等皆可对手持式气体检测仪进行远程监测<tspan letter-spacing="-8">、</tspan>管理<tspan letter-spacing="-8">、</tspan>维护</text>
<text x="444.6" y="403.4" font-size="11.9" fill="#231815" text-anchor="middle" font-family="Liberation Sans, sans-serif" textLength="35" lengthAdjust="spacingAndGlyphs">AV220V</text>
</g>
</svg>
</body>
</html>
